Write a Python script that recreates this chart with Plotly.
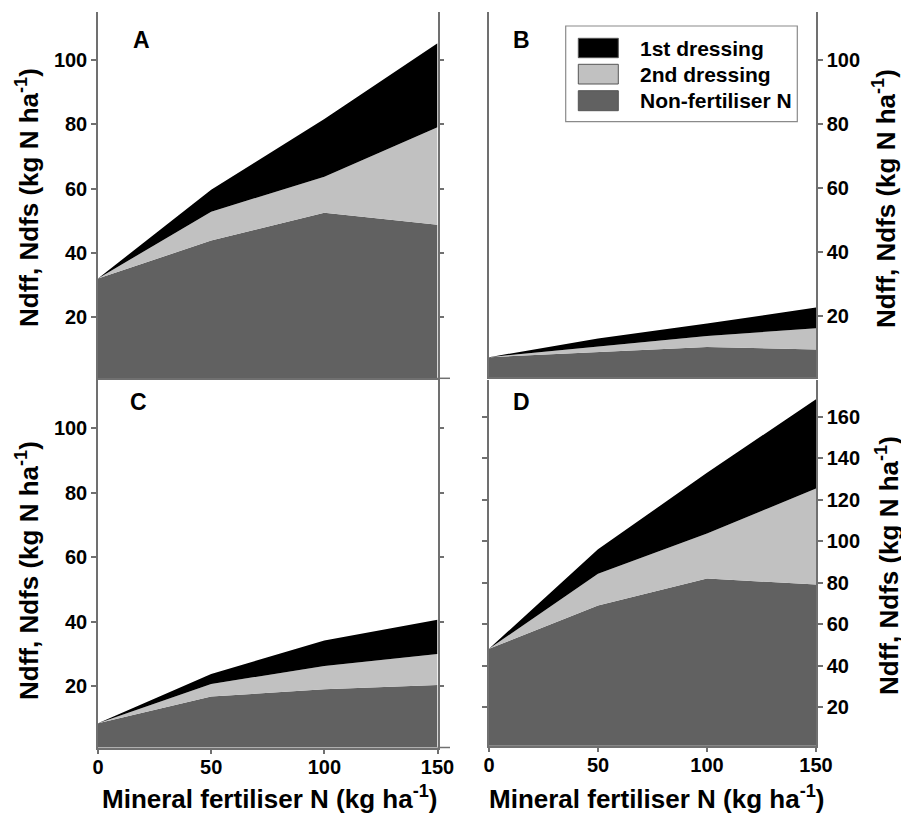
import plotly.graph_objects as go

# page offset of the plot div (default body margin) and figure size
OX, OY = 8, 8
FW, FH = 901, 808

# ---------------- data ----------------
fert_n = [0, 50, 100, 150]
series_names = ["Non-fertiliser N", "2nd dressing", "1st dressing"]

# Panel A
a_nonfert = [32.0, 43.8, 52.5, 48.7]
a_second = [0.0, 9.0, 11.2, 30.4]
a_first = [0.0, 6.8, 18.0, 26.2]
# Panel B
b_nonfert = [7.2, 8.8, 10.4, 9.6]
b_second = [0.0, 1.8, 3.4, 6.6]
b_first = [0.0, 2.4, 3.9, 6.5]
# Panel C
c_nonfert = [8.5, 16.8, 19.1, 20.4]
c_second = [0.0, 3.9, 7.2, 9.6]
c_first = [0.0, 3.1, 7.9, 10.6]
# Panel D
d_nonfert = [48.2, 69.1, 82.0, 79.2]
d_second = [0.0, 15.3, 21.7, 46.2]
d_first = [0.0, 11.7, 29.3, 43.0]

x_ticks = [0, 50, 100, 150]
y_ticks_abc = [20, 40, 60, 80, 100]
y_ticks_d = [20, 40, 60, 80, 100, 120, 140, 160]
panel_letters = ["A", "B", "C", "D"]

# ---------------- style ----------------
colors = {"Non-fertiliser N": "#616161", "2nd dressing": "#c1c1c1", "1st dressing": "#000000"}
FONT = "Liberation Sans, Arial, sans-serif"
AX = "#707070"

def px(x):
    return (x - OX) / FW

def py(y):
    return (FH - (y - OY)) / FH

fig = go.Figure()

panels = [
    (a_nonfert, a_second, a_first, "x", "y"),
    (b_nonfert, b_second, b_first, "x2", "y2"),
    (c_nonfert, c_second, c_first, "x3", "y3"),
    (d_nonfert, d_second, d_first, "x4", "y4"),
]
for i, (nf, sd, fd, xa, ya) in enumerate(panels):
    for name, vals in zip(series_names, [nf, sd, fd]):
        fig.add_trace(go.Scatter(
            x=fert_n, y=vals, name=name, xaxis=xa, yaxis=ya,
            stackgroup="s%d" % i, mode="lines",
            line=dict(width=0, color=colors[name]),
            fillcolor=colors[name], showlegend=False, hoverinfo="x+y+name",
        ))

xl = [px(98), px(437.5)]
xr = [px(489), px(816)]
ya_dom = [py(378.3), py(12)]
yb_dom = [py(377.3), py(12)]
yc_dom = [py(747.5), py(380)]
yd_dom = [py(745.7), py(380)]

tickfont = dict(family=FONT, size=20, color="black", weight="bold")

def xaxis(dom, anchor, labels):
    d = dict(domain=dom, anchor=anchor, range=[0, 150], showline=True, linecolor=AX,
             linewidth=1.5, showgrid=False, zeroline=False, fixedrange=True, automargin=False)
    if labels:
        d.update(tickmode="array", tickvals=x_ticks, ticks="outside", ticklen=5,
                 tickcolor=AX, tickwidth=1.5, tickfont=tickfont, showticklabels=True,
                 ticklabelstandoff=-4)
    else:
        d.update(ticks="", showticklabels=False)
    return d

def yaxis(dom, anchor, rng, tv, side, mirror):
    return dict(domain=dom, anchor=anchor, range=rng, side=side, showline=True,
                linecolor=AX, linewidth=1.5, mirror=mirror, showgrid=False,
                zeroline=False, tickmode="array", tickvals=tv, ticks="outside",
                ticklen=5, tickcolor=AX, tickwidth=1.5, tickfont=tickfont,
                automargin=False, fixedrange=True)

fig.update_layout(
    width=FW, height=FH, margin=dict(l=0, r=0, t=0, b=0),
    paper_bgcolor="white", plot_bgcolor="white",
    xaxis=xaxis(xl, "y", False),
    xaxis2=xaxis(xr, "y2", False),
    xaxis3=xaxis(xl, "y3", True),
    xaxis4=xaxis(xr, "y4", True),
    yaxis=yaxis(ya_dom, "x", [0.9, 115], y_ticks_abc, "left", "ticks"),
    yaxis2=yaxis(yb_dom, "x2", [0.9, 115], y_ticks_abc, "right", True),
    yaxis3=yaxis(yc_dom, "x3", [1.0, 115], y_ticks_abc, "left", "ticks"),
    yaxis4=yaxis(yd_dom, "x4", [1.5, 177.7], y_ticks_d, "right", "ticks"),
    showlegend=False,
)

shapes = []
annotations = []

# small extensions of the left-panel x-axis lines
for xr_, yr_ in [("x", "y"), ("x3", "y3")]:
    shapes.append(dict(type="line", xref=xr_ + " domain", yref=yr_ + " domain",
                       x0=1, x1=1 + 12.5 / 339.5, y0=0, y1=0,
                       line=dict(color=AX, width=1.5)))

# panel letters
for letter, (cx, cy) in zip(panel_letters, [(141, 40), (521, 40), (138, 402), (521, 402)]):
    annotations.append(dict(text="<b>%s</b>" % letter, x=px(cx), y=py(cy), xref="paper", yref="paper",
                            showarrow=False, xanchor="center", yanchor="middle",
                            font=dict(family=FONT, size=23, color="black")))

ytitle = "<b>Ndff, Ndfs (kg N ha<sup>-1</sup>)</b>"
xtitle = "<b>Mineral fertiliser N (kg ha<sup>-1</sup>)</b>"
tfont = dict(family=FONT, size=26, color="black")
for (cx, cy) in [(27, 198), (27, 571), (884, 199), (887, 566)]:
    annotations.append(dict(text=ytitle, x=px(cx), y=py(cy), xref="paper", yref="paper",
                            showarrow=False, textangle=-90, xanchor="center", yanchor="middle",
                            font=tfont))
for cx in [270, 657]:
    annotations.append(dict(text=xtitle, x=px(cx), y=0, xref="paper", yref="paper",
                            showarrow=False, xanchor="center", yanchor="bottom", font=tfont))

# legend (drawn in panel B)
shapes.append(dict(type="rect", xref="paper", yref="paper", x0=px(565.7), x1=px(797.3),
                   y0=py(121.7), y1=py(26), line=dict(color="#8a8a8a", width=1.2),
                   fillcolor="white"))
legend_order = ["1st dressing", "2nd dressing", "Non-fertiliser N"]
for name, (top, bot) in zip(legend_order, [(38.3, 57.7), (64.3, 84.0), (90.7, 110.7)]):
    shapes.append(dict(type="rect", xref="paper", yref="paper", x0=px(578.3), x1=px(618.3),
                       y0=py(bot), y1=py(top), fillcolor=colors[name],
                       line=dict(color="#555555", width=1)))
    annotations.append(dict(text="<b>%s</b>" % name, x=px(638), y=py((top + bot) / 2),
                            xref="paper", yref="paper", showarrow=False, xanchor="left",
                            yanchor="middle", font=dict(family=FONT, size=21, color="black")))

fig.update_layout(shapes=shapes, annotations=annotations)
fig.write_html("out.html")
